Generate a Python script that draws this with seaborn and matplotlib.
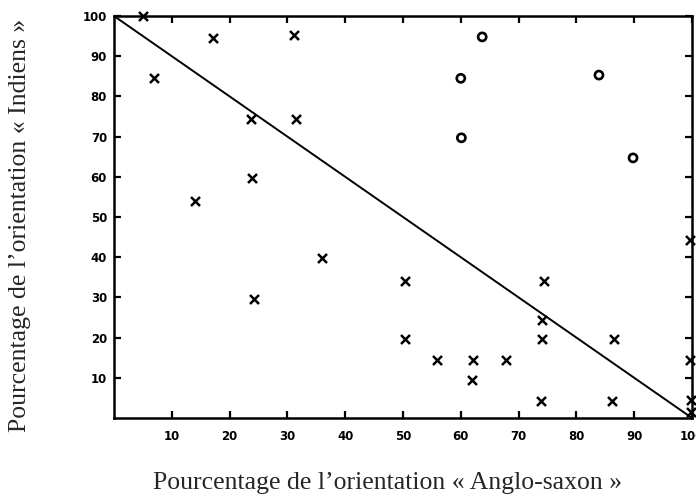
import matplotlib
matplotlib.use("Agg")
import matplotlib.pyplot as plt
import seaborn as sns
import pandas as pd

# Data
cross_x = [5, 17.2, 31.2, 7.0, 23.7, 31.5, 23.8, 14.0, 24.3, 35.9,
           50.3, 50.3, 55.9, 62.1, 62.0, 67.9, 74.4, 74.1, 74.0, 73.9,
           86.5, 86.1, 99.7, 99.7, 99.8, 99.8]
cross_y = [100, 94.5, 95.3, 84.5, 74.5, 74.5, 59.6, 54.0, 29.6, 39.9,
           34.1, 19.7, 14.5, 14.5, 9.5, 14.5, 34.1, 24.5, 19.7, 4.3,
           19.7, 4.3, 44.4, 14.5, 4.5, 1.6]
circle_x = [63.7, 60.0, 83.9, 60.1, 89.8]
circle_y = [94.8, 84.5, 85.3, 69.7, 64.7]
diag_x = [0, 100]
diag_y = [100, 0]
ticks = [10, 20, 30, 40, 50, 60, 70, 80, 90, 100]
xlabel = "Pourcentage de l\u2019orientation \u00ab Anglo-saxon \u00bb"
ylabel = "Pourcentage de l\u2019orientation \u00ab Indiens \u00bb"

sns.set_theme(style="ticks")
plt.rcParams["font.family"] = ["DejaVu Sans"]

fig = plt.figure(figsize=(6.96, 4.97), dpi=100)
ax = fig.add_axes([114/696, 79/497, (692-114)/696, (418-16)/497])

sns.lineplot(x=diag_x, y=diag_y, ax=ax, color="black", lw=1.4)

dfc = pd.DataFrame({"x": cross_x, "y": cross_y})
sns.scatterplot(data=dfc, x="x", y="y", ax=ax, marker="x", s=42,
                color="black", linewidth=1.8, clip_on=False, zorder=5)
dfo = pd.DataFrame({"x": circle_x, "y": circle_y})
sns.scatterplot(data=dfo, x="x", y="y", ax=ax, marker="o", s=34,
                facecolor="none", edgecolor="black", linewidth=1.9,
                clip_on=False, zorder=5)

ax.set_xlim(0, 100)
ax.set_ylim(0, 100)
ax.set_xticks(ticks)
ax.set_yticks(ticks)
ax.set_xticklabels([str(t) for t in ticks])
ax.set_yticklabels([str(t) for t in ticks])
ax.tick_params(direction="in", length=5, width=1.6, top=True, right=True,
               labelsize=8.5, colors="black")
ax.tick_params(axis="x", pad=9)
ax.tick_params(axis="y", pad=5)
for lab in ax.get_xticklabels() + ax.get_yticklabels():
    lab.set_fontweight("bold")
for sp in ax.spines.values():
    sp.set_linewidth(1.8)
    sp.set_color("black")
ax.set_xlabel("")
ax.set_ylabel("")

fig.text(388/696, 1 - 483/497, xlabel, ha="center", va="center",
         fontsize=18.5, family=["Liberation Serif"])
fig.text(20/696, 1 - 225/497, ylabel, ha="center", va="center",
         rotation=90, fontsize=18.5, family=["Liberation Serif"])

fig.savefig("out.png", dpi=100, facecolor="white")
